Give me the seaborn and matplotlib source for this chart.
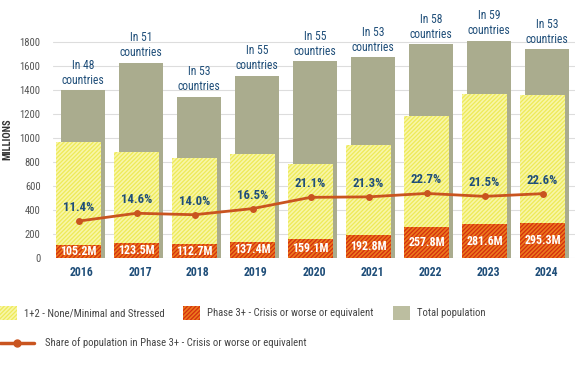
import numpy as np
import pandas as pd
import matplotlib
matplotlib.use("Agg")
import matplotlib.pyplot as plt
import seaborn as sns
from matplotlib.patches import Patch
from matplotlib.lines import Line2D

years = ["2016", "2017", "2018", "2019", "2020", "2021", "2022", "2023", "2024"]
total_population = [1400, 1628, 1342, 1517, 1640, 1675, 1783, 1810, 1738]
phase3_plus = [105.2, 123.5, 112.7, 137.4, 159.1, 192.8, 257.8, 281.6, 295.3]
phase1_2 = [859, 760, 724, 730, 628, 752, 925, 1088, 1063]
share_pct = [11.4, 14.6, 14.0, 16.5, 21.1, 21.3, 22.7, 21.5, 22.6]
countries = [48, 51, 53, 55, 55, 53, 58, 59, 53]
phase3_labels = ["105.2M", "123.5M", "112.7M", "137.4M", "159.1M", "192.8M", "257.8M", "281.6M", "295.3M"]
share_labels = ["11.4%", "14.6%", "14.0%", "16.5%", "21.1%", "21.3%", "22.7%", "21.5%", "22.6%"]
legend_labels = ["1+2 - None/Minimal and Stressed", "Phase 3+ - Crisis or worse or equivalent",
                 "Total population", "Share of population in Phase 3+ - Crisis or worse or equivalent"]

sns.set_theme(style="white")
plt.rcParams["font.family"] = ["Roboto Condensed", "Liberation Sans Narrow", "Roboto", "DejaVu Sans"]
plt.rcParams["hatch.linewidth"] = 1.2

GREY = "#aaac8e"
YELLOW = "#eeea58"
YELLOW_H = "#f8f6a8"
RED = "#d42e10"
RED_H = "#ec7a1c"
LINE = "#c9541f"
BLUE = "#1f4e79"
HATCH = "////////"

pos = np.arange(len(years))
off_y = -0.06
off_g = 0.02
df = pd.DataFrame({
    "pos_g": pos + off_g,
    "pos_y": pos + off_y,
    "total": total_population,
    "stack": np.array(phase1_2) + np.array(phase3_plus),
    "p3": phase3_plus,
    "share": share_pct,
})

fig = plt.figure(figsize=(5.84, 3.72), dpi=100)
ax = fig.add_axes([53 / 584, 1 - 258 / 372, 522 / 584, 228 / 372])

sns.barplot(data=df, x="pos_g", y="total", native_scale=True, color=GREY,
            width=0.76, saturation=1, ax=ax, linewidth=0, zorder=2)
sns.barplot(data=df, x="pos_y", y="stack", native_scale=True, color=YELLOW,
            width=0.78, saturation=1, ax=ax, hatch=HATCH, edgecolor=YELLOW_H,
            linewidth=0, zorder=3)
sns.barplot(data=df, x="pos_y", y="p3", native_scale=True, color=RED,
            width=0.78, saturation=1, ax=ax, hatch=HATCH, edgecolor=RED_H,
            linewidth=0, zorder=4)

ax.set_xlim(-0.5, len(years) - 0.5)
ax.set_ylim(0, 1900)
ax.set_yticks(np.arange(0, 1801, 200))
ax.set_xticks(pos)
ax.set_xticklabels(years, fontsize=8.5, fontweight="bold", color=BLUE)
ax.tick_params(axis="y", labelsize=7.7, colors="#555555", length=0, pad=9)
ax.tick_params(axis="x", length=0, pad=6)
ax.grid(axis="y", color="#dddddd", linewidth=0.8, zorder=0)
ax.set_axisbelow(True)
for s in ax.spines.values():
    s.set_visible(False)
ax.set_xlabel("")
ax.set_ylabel("MILLIONS", fontsize=7.5, fontweight="bold", color="#333333")
ax.yaxis.set_label_coords(-41 / 522, 119 / 228)

for i in range(len(years)):
    ax.annotate(f"In {countries[i]}\ncountries", (pos[i] + off_g, total_population[i]),
                xytext=(0, 2.5), textcoords="offset points", ha="center", va="bottom",
                fontsize=8.4, color=BLUE, linespacing=1.2, zorder=6)
    ax.text(pos[i] + off_y, phase3_plus[i] / 2, phase3_labels[i], ha="center", va="center",
            fontsize=8.6, fontweight="bold", color="white", zorder=6)

ax2 = ax.twinx()
a, b = 75.0, 20.4
ax2.set_ylim((0 - a) / b, (1900 - a) / b)
sns.lineplot(data=df, x="pos_y", y="share", ax=ax2, color=LINE, linewidth=2,
             marker="o", markersize=5, markeredgewidth=0, zorder=7)
ax2.set_xlim(ax.get_xlim())
ax2.set_yticks([])
ax2.set_ylabel("")
for s in ax2.spines.values():
    s.set_visible(False)
for i in range(len(years)):
    ax2.annotate(share_labels[i], (pos[i] + off_y, share_pct[i]), xytext=(0, 5),
                 textcoords="offset points", ha="center", va="bottom",
                 fontsize=9.2, fontweight="bold", color=BLUE, zorder=8)

handles = [
    Patch(facecolor=YELLOW, edgecolor=YELLOW_H, hatch=HATCH, linewidth=0),
    Patch(facecolor=RED, edgecolor=RED_H, hatch=HATCH, linewidth=0),
    Patch(facecolor="#bcbea0", edgecolor="#bcbea0", linewidth=0),
]
xs = [0, 183, 393]
for h, lab, x0 in zip(handles, legend_labels[:3], xs):
    fig.legend([h], [lab], loc="center left", bbox_to_anchor=(x0 / 584, 1 - 313 / 372),
               frameon=False, fontsize=7.7, handlelength=1.55, handleheight=1.75,
               handletextpad=0.7, borderpad=0, borderaxespad=0, labelcolor="#444444")
h2 = Line2D([0, 1], [0, 0], color=LINE, linewidth=2.5, marker="o", markersize=5)
fig.legend([h2], [legend_labels[3]], loc="center left", bbox_to_anchor=(0.0, 1 - 343 / 372),
           frameon=False, fontsize=7.7, handlelength=3.2, handletextpad=1.05, borderpad=0,
           borderaxespad=0, labelcolor="#444444")

fig.savefig("out.png", dpi=100)
